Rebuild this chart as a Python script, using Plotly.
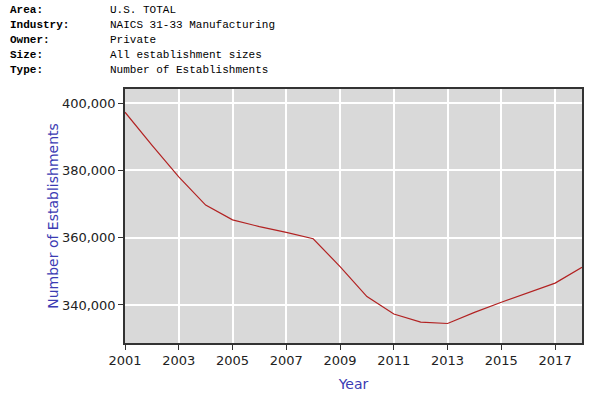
import plotly.graph_objects as go

# annual values
years = [2001, 2002, 2003, 2004, 2005, 2006, 2007, 2008, 2009,
         2010, 2011, 2012, 2013, 2014, 2015, 2016, 2017, 2018]
establishments = [397300, 387500, 378100, 369700, 365300, 363300, 361600, 359700, 351400,
                  342500, 337300, 334900, 334500, 337800, 340800, 343700, 346500, 351200]

header_keys = ['Area:', 'Industry:', 'Owner:', 'Size:', 'Type:']
header_vals = ['U.S. TOTAL', 'NAICS 31-33 Manufacturing', 'Private',
               'All establishment sizes', 'Number of Establishments']

W, H = 600, 400
ML, MR, MT, MB = 125, 18, 89, 57
pw, ph = W - ML - MR, H - MT - MB

fig = go.Figure(go.Scatter(
    x=years, y=establishments, mode='lines',
    line=dict(color='#b22222', width=1.2),
))

# header block sits in the top margin; paper coords are relative to the plot area
for i, (k, v) in enumerate(zip(header_keys, header_vals)):
    yy = (H - MB - (10 + 15 * i)) / ph
    fig.add_annotation(text='<b>' + k + '</b>', x=(8 - ML) / pw, y=yy, xref='paper', yref='paper',
                       xanchor='left', yanchor='middle', showarrow=False,
                       font=dict(family='Liberation Mono', size=11, color='black'))
    fig.add_annotation(text=v, x=(108 - ML) / pw, y=yy, xref='paper', yref='paper',
                       xanchor='left', yanchor='middle', showarrow=False,
                       font=dict(family='Liberation Mono', size=11, color='black'))

fig.update_layout(
    width=W, height=H,
    margin=dict(l=ML, r=MR, t=MT, b=MB, autoexpand=False),
    paper_bgcolor='white', plot_bgcolor='#d9d9d9',
    showlegend=False,
    font=dict(family='DejaVu Sans', size=13, color='#222222'),
)

fig.update_xaxes(
    range=[2001, 2018], tickvals=list(range(2001, 2018, 2)),
    showgrid=True, gridcolor='white', gridwidth=1.5,
    showline=True, linecolor='#333333', linewidth=1.5, mirror=True,
    ticks='outside', ticklen=5, tickcolor='#333333',
    zeroline=False,
    title=dict(text='Year', font=dict(color='#3b3bb3', size=14), standoff=12),
)
fig.update_yaxes(
    range=[328700, 404200], tickvals=[340000, 360000, 380000, 400000],
    tickformat=',',
    showgrid=True, gridcolor='white', gridwidth=1.5,
    showline=True, linecolor='#333333', linewidth=1.5, mirror=True,
    ticks='outside', ticklen=5, tickcolor='#333333',
    zeroline=False,
    title=dict(text='Number of Establishments', font=dict(color='#3b3bb3', size=14), standoff=0),
)

# drop the browser's default body margin so the 600x400 figure fills the window
fig.write_html('out.html', config={'displayModeBar': False},
               post_script="document.body.style.margin='0';")
